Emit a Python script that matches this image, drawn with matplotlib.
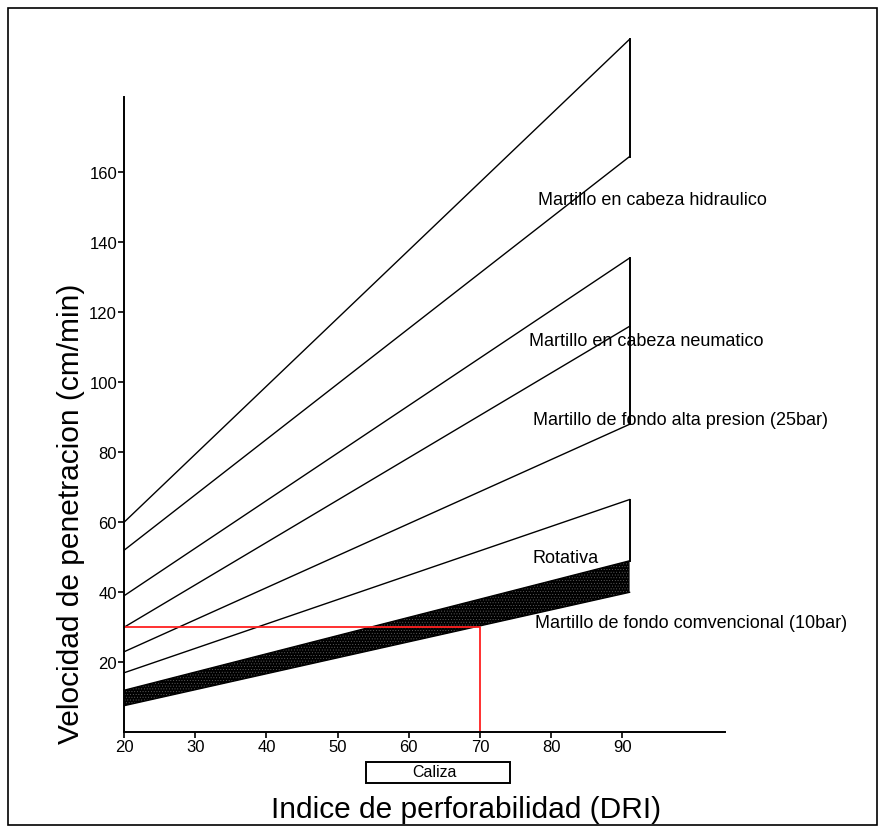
import matplotlib.pyplot as plt
from matplotlib.patches import Rectangle

plt.rcParams['font.family'] = ['Liberation Sans', 'DejaVu Sans']
plt.rcParams['hatch.linewidth'] = 0.3

# DRI range covered by the lines (start, end)
dri = [20, 91]

# velocidad de penetracion (cm/min) at DRI 20 and DRI 91
hidraulico_sup = [60, 198]
hidraulico_inf = [52, 164.5]
neumatico_sup = [39, 135.5]
neumatico_inf = [30, 116]      # also upper limit of alta presion
alta_presion_inf = [23, 88]
rotativa_sup = [17, 66.5]
convencional_sup = [12, 49]    # also lower limit of rotativa
convencional_inf = [7.6, 40]

# example reading (caliza)
dri_caliza = 70
vel_caliza = 30

x_ticks = [20, 30, 40, 50, 60, 70, 80, 90]
y_ticks = [20, 40, 60, 80, 100, 120, 140, 160]

fig = plt.figure(figsize=(8.79, 8.29), dpi=100)
W, H = 879, 829
ax = fig.add_axes([124 / W, 1 - 733.3 / H, (725 - 124) / W, (733.3 - 97.7) / H])

ax.set_xlim(20, 104.4)
ax.set_ylim(0, 181.6)

lw = 1.0
# band of martillo de fondo convencional (black, fine dots)
ax.fill_between(dri, convencional_inf, convencional_sup, facecolor='black',
                edgecolor='#6a6a6a', hatch='......', linewidth=0, clip_on=False)
for serie in [hidraulico_sup, hidraulico_inf, neumatico_sup, neumatico_inf,
              alta_presion_inf, rotativa_sup, convencional_sup, convencional_inf]:
    ax.plot(dri, serie, color='black', lw=lw, clip_on=False)

# vertical closing edges at the end of each range
ax.plot([dri[1], dri[1]], [hidraulico_inf[1], hidraulico_sup[1]], color='black', lw=1.4, clip_on=False)
ax.plot([dri[1], dri[1]], [alta_presion_inf[1], neumatico_sup[1]], color='black', lw=1.4, clip_on=False)
ax.plot([dri[1], dri[1]], [convencional_sup[1], rotativa_sup[1]], color='black', lw=1.4, clip_on=False)

# red reading line
ax.plot([dri[0], dri_caliza, dri_caliza], [vel_caliza, vel_caliza, 0], color='#ff2020', lw=1.3, clip_on=False)

# labels of each method
fs = 13
ax.text(78.1, 152.2, 'Martillo en cabeza hidraulico', fontsize=fs, va='center', ha='left')
ax.text(76.9, 111.9, 'Martillo en cabeza neumatico', fontsize=fs, va='center', ha='left')
ax.text(77.4, 89.3, 'Martillo de fondo alta presion (25bar)', fontsize=fs, va='center', ha='left')
ax.text(77.3, 49.8, 'Rotativa', fontsize=fs, va='center', ha='left')
ax.text(77.7, 31.4, 'Martillo de fondo comvencional (10bar)', fontsize=fs, va='center', ha='left')

ax.spines['top'].set_visible(False)
ax.spines['right'].set_visible(False)
ax.spines['left'].set_linewidth(1.4)
ax.spines['bottom'].set_linewidth(1.4)
ax.set_xticks(x_ticks)
ax.set_yticks(y_ticks)
ax.tick_params(direction='out', length=4, width=1.2, labelsize=12, pad=1)

# axis titles
fig.text(71 / W, 1 - 514 / H, 'Velocidad de penetracion (cm/min)', rotation=90,
         fontsize=21.5, ha='center', va='center')
fig.text(466.5 / W, 1 - 810 / H, 'Indice de perforabilidad (DRI)',
         fontsize=21.5, ha='center', va='center')

# caliza box
fig.patches.append(Rectangle((366 / W, 1 - 784 / H), 144 / W, 21.5 / H, transform=fig.transFigure,
                             fill=False, edgecolor='black', lw=1.4))
fig.text(434 / W, 1 - 773 / H, 'Caliza', fontsize=11.5, ha='center', va='center')

# outer frame
fig.patches.append(Rectangle((8 / W, 1 - 826 / H), 869 / W, 817 / H, transform=fig.transFigure,
                             fill=False, edgecolor='black', lw=1.2))

fig.savefig('out.png', dpi=100)
